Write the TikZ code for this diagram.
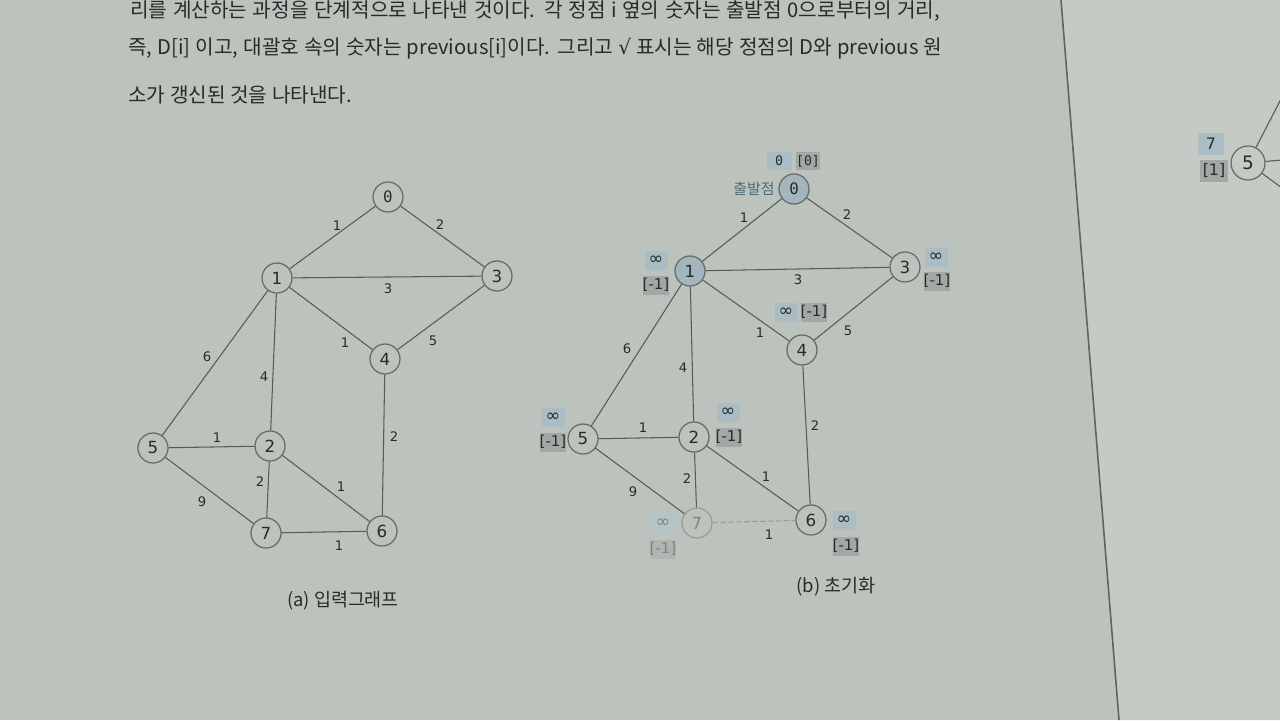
\documentclass[tikz,border=0pt]{standalone}
\usepackage{fontspec}
\setmainfont{Noto Sans CJK KR}
\newfontfamily\mynum{DejaVu Sans}
\newfontfamily\mymono{DejaVu Sans Mono}
\definecolor{pagebg}{HTML}{BCC3BD}
\definecolor{rightbg}{HTML}{C4CBC5}
\definecolor{pageedge}{HTML}{5E6561}
\definecolor{ink}{HTML}{272B29}
\definecolor{nodestroke}{HTML}{646B67}
\definecolor{edgecol}{HTML}{555B57}
\definecolor{startfill}{HTML}{A3B6BE}
\definecolor{infbox}{HTML}{AABDC4}
\definecolor{prevbox}{HTML}{A2A8A5}
\definecolor{fadestroke}{HTML}{959C98}
\definecolor{fadetext}{HTML}{7E8581}
\definecolor{fadeinf}{HTML}{B4C4C8}
\definecolor{fadeprev}{HTML}{B0B5B2}
\definecolor{startlbl}{HTML}{4E6B78}
\tikzset{
  v/.style={circle, draw=nodestroke, line width=0.7pt, fill=pagebg, minimum size=0.6cm, inner sep=0pt, text=ink, font=\mynum\fontsize{9.5}{10}\selectfont},
  vm/.style={v, font=\mymono\fontsize{9}{10}\selectfont},
  vs/.style={v, fill=startfill},
  vf/.style={v, draw=fadestroke, text=fadetext},
  e/.style={draw=edgecol, line width=0.6pt},
  ef/.style={draw=fadestroke, line width=0.6pt, dash pattern=on 3pt off 1.5pt},
  wt/.style={inner sep=0pt, text=ink, font=\mynum\fontsize{7.5}{8}\selectfont},
  infb/.style={fill=infbox, minimum width=0.46cm, minimum height=0.38cm, inner sep=0pt, text=ink, font=\mynum\fontsize{10}{10}\selectfont},
  prevb/.style={fill=prevbox, minimum width=0.46cm, minimum height=0.38cm, inner sep=0pt, text=ink, font=\mynum\fontsize{8.5}{9}\selectfont},
  monob/.style={infb, minimum width=0.5cm, minimum height=0.36cm, font=\mymono\fontsize{7.5}{9}\selectfont},
  body/.style={anchor=west, inner sep=0pt, text=ink, font=\fontsize{11.5}{13}\selectfont},
  captxt/.style={inner sep=0pt, text=ink, font=\fontsize{10.5}{12}\selectfont}
}
\begin{document}
\begin{tikzpicture}[x=0.02cm, y=-0.02cm]
\useasboundingbox (0,0) rectangle (1280,720);
\fill[pagebg] (0,0) rectangle (1280,720);
\fill[rightbg] (1061,0) -- (1280,0) -- (1280,720) -- (1119,720) -- cycle;
\draw[pageedge, line width=0.9pt] (1061,0) -- (1119,720);

% body text
\node[body] (t1) at (130,11) {\makebox[16.2cm][s]{리를 계산하는 과정을 단계적으로 나타낸 것이다. 각 정점 i 옆의 숫자는 출발점 0으로부터의 거리,}};
\node[body] (t2) at (128,48) {\makebox[16.28cm][s]{즉, D[i] 이고, 대괄호 속의 숫자는 previous[i]이다. 그리고 {\mynum √} 표시는 해당 정점의 D와 previous 원}};
\node[body] (t3) at (128,95) {소가 갱신된 것을 나타낸다.};

% ---------- (a) input graph ----------
\node[vm] (a0) at (388,197) {0};
\node[v] (a1) at (277,278) {1};
\node[v] (a3) at (497,276) {3};
\node[v] (a4) at (385,359) {4};
\node[v] (a5) at (153,448) {5};
\node[v] (a2) at (270,446) {2};
\node[v] (a7) at (266,533) {7};
\node[v] (a6) at (382,531) {6};
\draw[e] (a0) -- (a1);
\draw[e] (a0) -- (a3);
\draw[e] (a1) -- (a3);
\draw[e] (a1) -- (a4);
\draw[e] (a3) -- (a4);
\draw[e] (a1) -- (a5);
\draw[e] (a1) -- (a2);
\draw[e] (a4) -- (a6);
\draw[e] (a5) -- (a2);
\draw[e] (a2) -- (a7);
\draw[e] (a2) -- (a6);
\draw[e] (a5) -- (a7);
\draw[e] (a7) -- (a6);
\node[wt] (wa01) at (337,226) {1};
\node[wt] (wa03) at (440,225) {2};
\node[wt] (wa13) at (388,289) {3};
\node[wt] (wa14) at (345,343) {1};
\node[wt] (wa34) at (433,341) {5};
\node[wt] (wa15) at (207,357) {6};
\node[wt] (wa12) at (264,377) {4};
\node[wt] (wa46) at (394,437) {2};
\node[wt] (wa52) at (217,438) {1};
\node[wt] (wa27) at (260,482) {2};
\node[wt] (wa26) at (341,487) {1};
\node[wt] (wa57) at (202,502) {9};
\node[wt] (wa76) at (339,546) {1};
\node[captxt] (capa) at (343,601) {(a) 입력그래프};

% ---------- (b) initialisation ----------
\node[vs, font=\mymono\fontsize{9}{10}\selectfont] (b0) at (794,189) {0};
\node[vs] (b1) at (690,271) {1};
\node[v] (b3) at (905,267) {3};
\node[v] (b4) at (802,350) {4};
\node[v] (b5) at (583,439) {5};
\node[v] (b2) at (694,437) {2};
\node[vf] (b7) at (697,523) {7};
\node[v] (b6) at (811,520) {6};
\draw[e] (b0) -- (b1);
\draw[e] (b0) -- (b3);
\draw[e] (b1) -- (b3);
\draw[e] (b1) -- (b4);
\draw[e] (b3) -- (b4);
\draw[e] (b1) -- (b5);
\draw[e] (b1) -- (b2);
\draw[e] (b4) -- (b6);
\draw[e] (b5) -- (b2);
\draw[e] (b2) -- (b7);
\draw[e] (b2) -- (b6);
\draw[e] (b5) -- (b7);
\draw[ef] (b7) -- (b6);
\node[wt] (wb01) at (744,218) {1};
\node[wt] (wb03) at (847,215) {2};
\node[wt] (wb13) at (798,280) {3};
\node[wt] (wb14) at (760,333) {1};
\node[wt] (wb34) at (848,331) {5};
\node[wt] (wb15) at (627,349) {6};
\node[wt] (wb12) at (683,368) {4};
\node[wt] (wb46) at (815,426) {2};
\node[wt] (wb52) at (643,428) {1};
\node[wt] (wb27) at (687,479) {2};
\node[wt] (wb26) at (766,477) {1};
\node[wt] (wb57) at (633,492) {9};
\node[wt] (wb76) at (769,535) {1};
% distance / previous boxes
\node[monob] (d0) at (779,161) {0};
\node[prevb, minimum height=0.36cm, font=\mymono\fontsize{7.5}{9}\selectfont] (p0) at (808,161) {[0]};
\node[inner sep=0pt, text=startlbl, font=\fontsize{8.5}{10}\selectfont] (start) at (754,189) {출발점};
\node[infb] (d1) at (656,260) {∞};
\node[prevb] (p1) at (656,285) {[-1]};
\node[infb] (d3) at (936,257) {∞};
\node[prevb] (p3) at (937,281) {[-1]};
\node[infb] (d4) at (786,312) {∞};
\node[prevb] (p4) at (814,312) {[-1]};
\node[infb] (d5) at (553,417) {∞};
\node[prevb] (p5) at (553,442) {[-1]};
\node[infb] (d2) at (728,412) {∞};
\node[prevb] (p2) at (729,437) {[-1]};
\node[infb, fill=fadeinf, text=fadetext] (d7) at (663,523) {∞};
\node[prevb, fill=fadeprev, text=fadetext] (p7) at (663,549) {[-1]};
\node[infb] (d6) at (844,520) {∞};
\node[prevb] (p6) at (846,546) {[-1]};
\node[captxt] (capb) at (836,587) {(b) 초기화};

% ---------- right page fragment ----------
\node[v, minimum size=0.68cm, fill=rightbg, font=\mynum\fontsize{10.5}{11}\selectfont] (r5) at (1248,163) {5};
\node[infb, minimum width=0.52cm, minimum height=0.44cm, font=\mynum\fontsize{9}{10}\selectfont] (rd5) at (1211,144) {7};
\node[prevb, minimum width=0.56cm, minimum height=0.44cm, font=\mynum\fontsize{9}{10}\selectfont] (rp5) at (1214,171) {[1]};
\coordinate (rx1) at (1282,97);
\coordinate (rx2) at (1282,160);
\coordinate (rx3) at (1282,188);
\draw[e] (r5) -- (rx1);
\draw[e] (r5) -- (rx2);
\draw[e] (r5) -- (rx3);
\end{tikzpicture}
\end{document}
